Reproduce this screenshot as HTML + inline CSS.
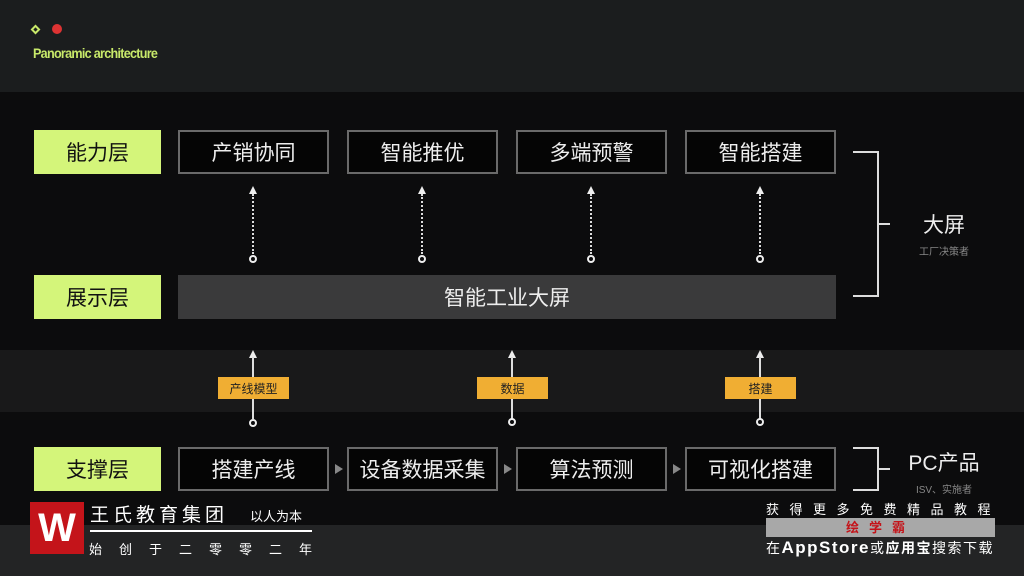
<!DOCTYPE html>
<html><head><meta charset="utf-8"><style>
*{margin:0;padding:0;box-sizing:border-box}
body{width:1024px;height:576px;overflow:hidden;background:#0c0c0d;position:relative;font-family:"Liberation Sans","Noto Sans CJK SC",sans-serif}
.a{position:absolute}
.lbl{position:absolute;background:#d4f57a;color:#111;font-size:21px;display:flex;align-items:center;justify-content:center;width:127px;height:44px}
.bx{position:absolute;border:2px solid #6a6a6a;background:#050505;color:#eee;font-size:21px;display:flex;align-items:center;justify-content:center;width:151px;height:44px}
.tag{position:absolute;background:#f0ae33;color:#222;font-size:12px;display:flex;align-items:center;justify-content:center;height:22px;width:71px}
.circ{position:absolute;width:8px;height:8px;border:2px solid #eee;border-radius:50%}
.tri{position:absolute;width:0;height:0;border-left:4px solid transparent;border-right:4px solid transparent;border-bottom:8px solid #eee}
.dot{position:absolute;width:0;border-left:2px dotted #ddd}
.sol{position:absolute;width:2px;background:#ddd}
.rt{position:absolute;width:0;height:0;border-top:5px solid transparent;border-bottom:5px solid transparent;border-left:8px solid #888}
</style></head><body>
<div class="a" style="left:0;top:0;width:1024px;height:92px;background:#1b1d1e"></div>
<div class="a" style="left:0;top:350px;width:1024px;height:62px;background:#19191a"></div>
<div class="a" style="left:0;top:525px;width:1024px;height:51px;background:#232425"></div>
<div class="a" style="left:32px;top:26px;width:7px;height:7px;border:2px solid #c8e96a;transform:rotate(45deg)"></div>
<div class="a" style="left:52px;top:24px;width:10px;height:10px;border-radius:50%;background:#d33"></div>
<div class="a" style="left:33px;top:45px;color:#c8e96a;font-size:14px;font-weight:bold;letter-spacing:-0.8px;transform:scaleX(0.9);transform-origin:left">Panoramic architecture</div>

<div class="lbl" style="left:34px;top:130px">能力层</div>
<div class="lbl" style="left:34px;top:275px">展示层</div>
<div class="lbl" style="left:34px;top:447px">支撑层</div>

<div class="bx" style="left:178px;top:130px">产销协同</div>
<div class="bx" style="left:347px;top:130px">智能推优</div>
<div class="bx" style="left:516px;top:130px">多端预警</div>
<div class="bx" style="left:685px;top:130px">智能搭建</div>

<div class="a" style="left:178px;top:275px;width:658px;height:44px;background:#3a3a3b;color:#eee;font-size:21px;display:flex;align-items:center;justify-content:center">智能工业大屏</div>

<div class="bx" style="left:178px;top:447px">搭建产线</div>
<div class="bx" style="left:347px;top:447px">设备数据采集</div>
<div class="bx" style="left:516px;top:447px">算法预测</div>
<div class="bx" style="left:685px;top:447px">可视化搭建</div>
<div class="rt" style="left:335px;top:464px"></div>
<div class="rt" style="left:504px;top:464px"></div>
<div class="rt" style="left:673px;top:464px"></div>

<div class="tri" style="left:249px;top:186px"></div><div class="dot" style="left:252px;top:194px;height:60px"></div><div class="circ" style="left:249px;top:255px"></div>
<div class="tri" style="left:418px;top:186px"></div><div class="dot" style="left:421px;top:194px;height:60px"></div><div class="circ" style="left:418px;top:255px"></div>
<div class="tri" style="left:587px;top:186px"></div><div class="dot" style="left:590px;top:194px;height:60px"></div><div class="circ" style="left:587px;top:255px"></div>
<div class="tri" style="left:756px;top:186px"></div><div class="dot" style="left:759px;top:194px;height:60px"></div><div class="circ" style="left:756px;top:255px"></div>

<div class="tri" style="left:249px;top:350px"></div><div class="sol" style="left:252px;top:357px;height:62px"></div><div class="circ" style="left:249px;top:419px"></div>
<div class="tri" style="left:508px;top:350px"></div><div class="sol" style="left:511px;top:357px;height:62px"></div><div class="circ" style="left:508px;top:418px"></div>
<div class="tri" style="left:756px;top:350px"></div><div class="sol" style="left:759px;top:357px;height:62px"></div><div class="circ" style="left:756px;top:418px"></div>
<div class="tag" style="left:218px;top:377px">产线模型</div>
<div class="tag" style="left:477px;top:377px">数据</div>
<div class="tag" style="left:725px;top:377px">搭建</div>

<div class="a" style="left:853px;top:151px;width:26px;height:146px;border:2px solid #ddd;border-left:none"></div>
<div class="a" style="left:879px;top:223px;width:11px;height:2px;background:#ddd"></div>
<div class="a" style="left:900px;top:209px;width:88px;text-align:center;color:#eee;font-size:21px">大屏</div>
<div class="a" style="left:900px;top:243px;width:88px;text-align:center;color:#888;font-size:10px">工厂决策者</div>
<div class="a" style="left:853px;top:447px;width:26px;height:44px;border:2px solid #ddd;border-left:none"></div>
<div class="a" style="left:879px;top:468px;width:11px;height:2px;background:#ddd"></div>
<div class="a" style="left:900px;top:447px;width:88px;text-align:center;color:#eee;font-size:21px">PC产品</div>
<div class="a" style="left:900px;top:481px;width:88px;text-align:center;color:#888;font-size:10px">ISV、实施者</div>

<div class="a" style="left:30px;top:502px;width:54px;height:52px;background:#c4141a;color:#fff;font-size:40px;font-weight:bold;display:flex;align-items:center;justify-content:center">W</div>
<div class="a" style="left:90px;top:500px;color:#fff;font-size:19px;letter-spacing:4px">王氏教育集团</div>
<div class="a" style="left:250px;top:506px;color:#fff;font-size:13px">以人为本</div>
<div class="a" style="left:90px;top:530px;width:222px;height:2px;background:#fff"></div>
<div class="a" style="left:89px;top:539px;color:#fff;font-size:13px;letter-spacing:17px">始创于二零零二年</div>

<div class="a" style="left:766px;top:499px;color:#fff;font-size:13px;letter-spacing:10.5px;white-space:nowrap">获得更多免费精品教程</div>
<div class="a" style="left:766px;top:518px;width:229px;height:19px;background:#a8a8a8;color:#c4141a;font-weight:bold;font-size:13px;text-align:center;letter-spacing:10px;line-height:19px">绘学霸</div>
<div class="a" style="left:766px;top:538px;color:#fff;font-size:14px;white-space:nowrap;letter-spacing:1.5px">在<b style="font-size:17px;letter-spacing:1.5px">AppStore</b>或<b>应用宝</b>搜索下载</div>
</body></html>
